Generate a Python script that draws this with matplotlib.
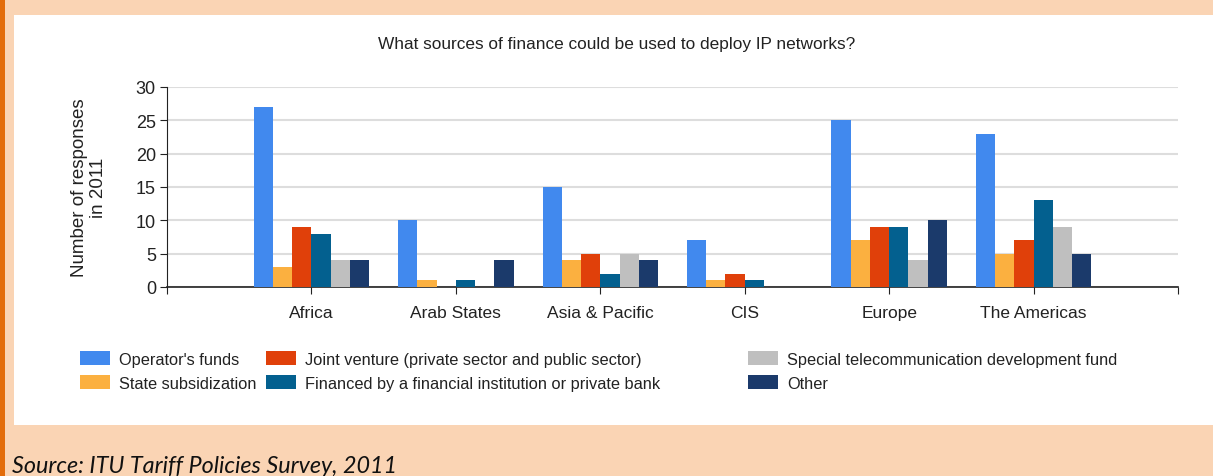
import matplotlib
matplotlib.use("Agg")
from matplotlib import pyplot as plt
from matplotlib.patches import Rectangle
import numpy as np

regions = ["Africa", "Arab States", "Asia & Pacific", "CIS", "Europe", "The Americas"]
series_names = [
    "Operator's funds",
    "State subsidization",
    "Joint venture (private sector and public sector)",
    "Financed by a financial institution or private bank",
    "Special telecommunication development fund",
    "Other",
]
operator_funds = [27, 10, 15, 7, 25, 23]
state_subsidization = [3, 1, 4, 1, 7, 5]
joint_venture = [9, 0, 5, 2, 9, 7]
financed_bank = [8, 1, 2, 1, 9, 13]
special_fund = [4, 0, 5, 0, 4, 9]
other = [4, 4, 4, 0, 10, 5]
colors = ["#4189EE", "#FBB040", "#E0400A", "#03608F", "#BFBFBF", "#1B3A6B"]

plt.rcParams["font.family"] = ["Liberation Sans", "DejaVu Sans"]

fig = plt.figure(figsize=(12.13, 4.77), dpi=100)
fig.patch.set_facecolor("#FAD4B4")
# white panel and orange border, behind the axes
fig.patches.append(Rectangle((14 / 1213, 1 - 426 / 477), 1, (426 - 16) / 477,
                             transform=fig.transFigure, facecolor="white", edgecolor="none", zorder=-10))
fig.patches.append(Rectangle((0, 0), 5 / 1213, 1, transform=fig.transFigure,
                             facecolor="#E36C0A", edgecolor="none", zorder=-10))

ax = fig.add_axes([167 / 1213, 1 - 288 / 477, (1178 - 167) / 1213, 200 / 477])
ax.set_facecolor("white")

data = [operator_funds, state_subsidization, joint_venture, financed_bank, special_fund, other]
x = np.arange(len(regions))
w = 0.8 / 6
bars = []
for i, vals in enumerate(data):
    b = ax.bar(x - 0.4 + w * (i + 0.5), vals, width=w, color=colors[i], label=series_names[i], zorder=3)
    bars.append(b)

ax.set_xlim(-1, 6)
ax.set_ylim(0, 30)
ax.set_yticks([0, 5, 10, 15, 20, 25, 30])
ax.tick_params(axis="y", labelsize=13, length=5, color="#222222", labelcolor="#222222", pad=3)
ax.set_xticks(list(range(-1, 7)))
ax.set_xticklabels([""] + regions + [""], fontsize=12.5, color="#222222")
ax.tick_params(axis="x", length=5, pad=8, color="#222222")
ax.grid(axis="y", color="#DDDDDD", linewidth=1.5, zorder=0)
ax.set_axisbelow(True)
for s in ["top", "right"]:
    ax.spines[s].set_visible(False)
ax.spines["left"].set_color("#222222")
ax.spines["bottom"].set_color("#222222")
ax.spines["bottom"].set_linewidth(1.2)

fig.text(617 / 1213, 1 - 45 / 477, "What sources of finance could be used to deploy IP networks?",
         ha="center", va="center", fontsize=12.4, color="#222222")
fig.text(89 / 1213, 1 - 188 / 477, "Number of responses\nin 2011", rotation=90,
         ha="center", va="center", fontsize=13.5, color="#222222", linespacing=1.15)

# legend in three columns at fixed positions
col_x = [80, 266, 748]
fs = 11.8
for c in range(3):
    fig.legend([bars[2 * c], bars[2 * c + 1]], [series_names[2 * c], series_names[2 * c + 1]],
               loc="upper left", bbox_to_anchor=(col_x[c] / 1213, 1 - 352 / 477),
               frameon=False, fontsize=fs, handlelength=30 / (fs * 1.389),
               handleheight=16 / (fs * 1.389),
               labelspacing=8 / (fs * 1.389), handletextpad=0.55, borderpad=0, borderaxespad=0,
               labelcolor="#222222")

fig.text(12 / 1213, 1 - 467 / 477, "Source: ITU Tariff Policies Survey, 2011",
         ha="left", va="center", fontsize=16.8, fontstyle="italic", family="Lato", color="#111111")

fig.savefig("out.png", dpi=100, facecolor=fig.get_facecolor())
